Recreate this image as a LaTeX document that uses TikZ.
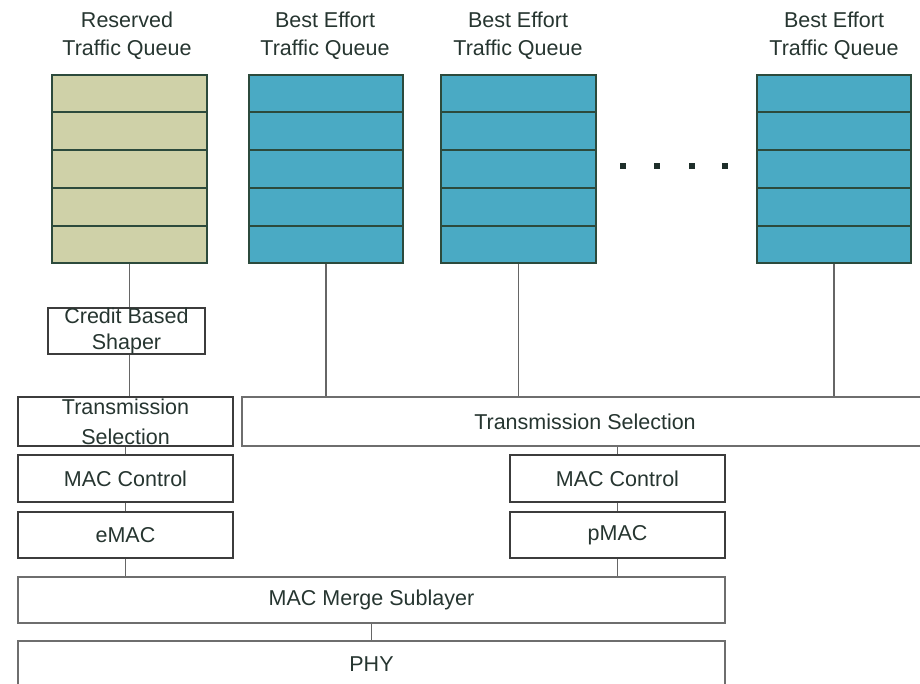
\documentclass[tikz,border=0pt]{standalone}
\usepackage{fontspec}
\setmainfont{Liberation Sans}
\usetikzlibrary{calc}
\definecolor{txt}{HTML}{263530}
\definecolor{boxc}{HTML}{3C3C3C}
\definecolor{boxlight}{HTML}{6E6E6E}
\definecolor{linec}{HTML}{666666}
\definecolor{qborder}{HTML}{2C4A3C}
\definecolor{resfill}{HTML}{CFD1A8}
\definecolor{befill}{HTML}{4AAAC4}
\definecolor{dotc}{HTML}{1F2F2A}
\begin{document}
\begin{tikzpicture}[x=1pt,y=-1pt,
  box/.style={draw=boxc, line width=1.1pt, inner sep=0pt, align=center, text=txt,
    font=\fontsize{21.5}{27}\selectfont},
  queue/.style={draw=qborder, line width=1.4pt, minimum height=188pt, inner sep=0pt},
  rowline/.style={draw=qborder, line width=1.4pt},
  lbl/.style={text=txt, align=center, inner sep=0pt, font=\fontsize{21.5}{28}\selectfont},
  conn/.style={draw=linec, line width=1.3pt},
  dotbox/.style={fill=dotc, minimum size=5.5pt, inner sep=0pt}]
\useasboundingbox (0,0) rectangle (920,684);
\clip (0,0) rectangle (920,684);
% queues
\node[queue, fill=resfill, minimum width=155pt] (q0) at (129.5,169) {};
\node[queue, fill=befill, minimum width=154pt] (q1) at (326,169) {};
\node[queue, fill=befill, minimum width=155pt] (q2) at (518.5,169) {};
\node[queue, fill=befill, minimum width=154pt] (q3) at (834,169) {};
\foreach \q in {q0,q1,q2,q3}{
  \foreach \i in {1,2,3,4}{
    \draw[rowline] ($(\q.north west)!\i/5!(\q.south west)$) -- ($(\q.north east)!\i/5!(\q.south east)$);
  }
}
% labels
\node[lbl] (l0) at (127,36) {Reserved\\Traffic Queue};
\node[lbl] (l1) at (325,36) {Best Effort\\Traffic Queue};
\node[lbl] (l2) at (518,36) {Best Effort\\Traffic Queue};
\node[lbl] (l3) at (834,36) {Best Effort\\Traffic Queue};
% dots
\node[dotbox] (d1) at (623,166) {};
\node[dotbox] (d2) at (657,166) {};
\node[dotbox] (d3) at (692,166) {};
\node[dotbox] (d4) at (725,166) {};
% boxes
\node[box, minimum width=157pt, minimum height=46pt, font=\fontsize{21.5}{26}\selectfont] (cbs) at (126.5,331) {Credit Based\\Shaper};
\node[box, minimum width=215pt, minimum height=49pt, font=\fontsize{21.5}{30}\selectfont] (tsl) at (125.5,421.5) {Transmission\\Selection};
\node[box, draw=boxlight, minimum width=686pt, minimum height=49pt] (tsr) at (585,421.5) {Transmission Selection};
\node[box, minimum width=215pt, minimum height=47pt] (mcl) at (125.5,478.5) {MAC Control};
\node[box, minimum width=215pt, minimum height=46pt] (eml) at (125.5,535) {eMAC};
\node[box, minimum width=215pt, minimum height=47pt] (mcr) at (617.5,478.5) {MAC Control};
\node[box, minimum width=215pt, minimum height=46pt] (pml) at (617.5,535) {pMAC};
\node[box, draw=boxlight, minimum width=707pt, minimum height=46pt] (merge) at (371.5,600) {MAC Merge Sublayer};
\node[box, draw=boxlight, minimum width=707pt, minimum height=46pt] (phy) at (371.5,664) {PHY};
% connectors
\draw[conn] (q0.south) -- (q0.south |- cbs.north);
\draw[conn] (q0.south |- cbs.south) -- (q0.south |- tsl.north);
\draw[conn] (q1.south) -- (q1.south |- tsr.north);
\draw[conn] (q2.south) -- (q2.south |- tsr.north);
\draw[conn] (q3.south) -- (q3.south |- tsr.north);
\draw[conn] (tsl.south) -- (mcl.north);
\draw[conn] (mcl.south) -- (eml.north);
\draw[conn] (eml.south) -- (eml.south |- merge.north);
\draw[conn] (mcr.north |- tsr.south) -- (mcr.north);
\draw[conn] (mcr.south) -- (pml.north);
\draw[conn] (pml.south) -- (pml.south |- merge.north);
\draw[conn] (merge.south) -- (phy.north);
\end{tikzpicture}
\end{document}
